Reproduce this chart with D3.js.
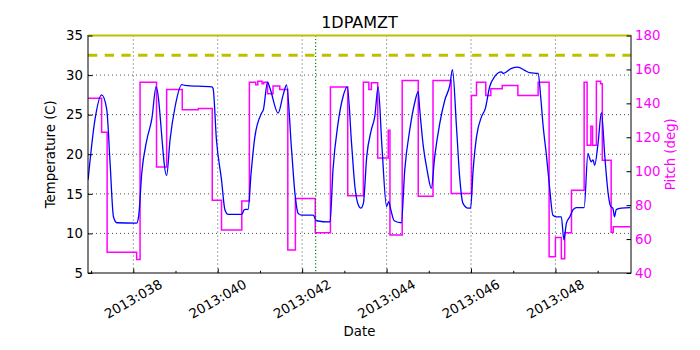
<!DOCTYPE html>
<html>
<head>
<meta charset="utf-8">
<script src="https://cdn.jsdelivr.net/npm/d3@7"></script>
<style>
  body { margin: 0; background: #fff; }
  text { font-family: "DejaVu Sans", sans-serif; }
</style>
</head>
<body>
<div id="chart"></div>
<script>
// Variables
const width = 700;
const height = 350;

const margin = { top: 35.5, right: 69, bottom: 77, left: 88 };
const innerWidth = width - margin.left - margin.right;
const innerHeight = height - margin.top - margin.bottom;

const chartTitle = '1DPAMZT';
const xAxisLabel = 'Date';
const yAxisLabel = 'Temperature (C)';
const y2AxisLabel = 'Pitch (deg)';

// Data (day of year 2013)
const xDomain = [36.927, 49.79];
const xMajorTicks = [38, 40, 42, 44, 46, 48];
const xMinorTicks = [37, 39, 41, 43, 45, 47, 49];
const tempTicks = [5, 10, 15, 20, 25, 30, 35];
const pitchTicks = [40, 60, 80, 100, 120, 140, 160, 180];

const tempDays = [36.93, 37.09, 37.25, 37.37, 37.45, 37.53, 37.61, 38.08, 38.13, 38.20,
  38.32, 38.44, 38.54, 38.79, 38.87, 38.99, 39.15, 39.22, 39.86, 39.89,
  39.97, 40.09, 40.17, 40.25, 40.57, 40.63, 40.72, 40.79, 40.88, 41.04,
  41.08, 41.18, 41.24, 41.43, 41.55, 41.63, 41.75, 41.83, 41.91, 41.99,
  42.26, 42.34, 42.66, 42.73, 42.85, 42.97, 43.07, 43.17, 43.25, 43.33,
  43.39, 43.45, 43.53, 43.64, 43.72, 43.80, 43.89, 44.00, 44.05, 44.10,
  44.18, 44.35, 44.43, 44.55, 44.67, 44.75, 44.78, 44.87, 44.96, 45.06,
  45.14, 45.26, 45.38, 45.50, 45.56, 45.66, 45.73, 45.81, 45.93, 45.99,
  46.05, 46.13, 46.25, 46.34, 46.44, 46.56, 46.72, 46.76, 46.96, 47.11,
  47.27, 47.39, 47.59, 47.65, 47.71, 47.79, 47.86, 47.94, 48.02, 48.14,
  48.20, 48.26, 48.34, 48.42, 48.50, 48.68, 48.77, 48.81, 48.85, 48.89,
  48.93, 49.01, 49.09, 49.17, 49.25, 49.31, 49.36, 49.40, 49.44, 49.56, 49.77];
const tempVals = [16.8, 24.3, 27.5, 25.7, 18.9, 12.1, 11.35, 11.3, 12.3, 17.6,
  21.8, 24.5, 28.5, 17.3, 21.8, 26.0, 28.8, 28.7, 28.5, 28.3,
  21.8, 16.75, 13.0, 12.4, 12.4, 13.0, 13.05, 17.6, 22.2, 25.2,
  25.6, 29.1, 28.3, 25.2, 27.5, 28.75, 20.5, 15.0, 12.5, 12.3,
  12.3, 11.6, 11.45, 18.0, 23.9, 27.3, 28.5, 21.4, 15.9, 13.6,
  13.2, 13.8, 19.7, 23.1, 24.75, 28.5, 21.0, 13.4, 14.0, 13.0,
  11.6, 11.35, 18.0, 23.1, 26.6, 27.9, 26.0, 21.0, 18.0, 15.7,
  19.7, 23.9, 26.85, 28.75, 30.7, 23.1, 17.2, 13.8, 13.2, 13.2,
  18.0, 22.2, 24.75, 25.8, 28.5, 29.8, 30.4, 30.2, 30.85, 31.0,
  30.6, 30.3, 30.2, 27.3, 23.5, 19.7, 15.9, 12.3, 12.1, 12.1,
  9.2, 11.3, 12.1, 13.0, 13.25, 13.25, 20.1, 19.5, 19.05, 19.3,
  18.6, 21.4, 25.25, 19.7, 15.0, 13.4, 13.2, 12.1, 13.0, 13.2, 13.25];

const pitchDays = [36.93, 37.25, 37.38, 38.08, 38.16, 38.55, 38.79, 39.16, 39.54, 39.87,
  40.09, 40.57, 40.75, 40.90, 40.95, 41.05, 41.09, 41.18, 41.31, 41.47,
  41.66, 41.84, 42.31, 42.67, 43.08, 43.45, 43.58, 43.64, 43.79, 44.04,
  44.08, 44.37, 44.75, 45.10, 45.53, 46.01, 46.13, 46.35, 46.47, 46.74,
  47.11, 47.59, 47.85, 48.00, 48.14, 48.22, 48.38, 48.68, 48.75, 48.84,
  48.88, 48.97, 49.07, 49.11, 49.32, 49.37, 49.77];
const pitchVals = [143, 123, 52.2, 48, 152.5, 102.5, 148.2, 136.3, 136.9, 82.9,
  65.3, 82.5, 152.5, 151, 153, 151.5, 152.5, 145.7, 150.2, 148.1,
  53.5, 83.9, 63.7, 149.6, 85.5, 152.5, 148.1, 152.2, 107.8, 124.1,
  62.4, 153.5, 85.3, 153.5, 86.9, 144.7, 152.5, 144.7, 148.6, 150.6,
  144.7, 152.5, 49.6, 61, 48.4, 63.7, 88.8, 152.5, 115.3, 126.5,
  115.3, 153.1, 151.6, 106.5, 64, 67.2, 67.2];

const limitHigh = 35;
const limitPlan = 32.5;
const markerDay = 42.32;

const tempData = tempDays.map((d, i) => ({ day: d, value: tempVals[i] }));
const pitchData = pitchDays.map((d, i) => ({ day: d, value: pitchVals[i] }));

// Create SVG
const svg = d3.select('#chart')
  .append('svg')
    .attr('width', width)
    .attr('height', height);

const chartGroup = svg.append('g')
  .attr('transform', `translate(${margin.left}, ${margin.top})`);

// Scales
const xScale = d3.scaleLinear().domain(xDomain).range([0, innerWidth]);
const yScale = d3.scaleLinear().domain([5, 35]).range([innerHeight, 0]);
const y2Scale = d3.scaleLinear().domain([40, 180]).range([innerHeight, 0]);

svg.append('defs').append('clipPath').attr('id', 'clip')
  .append('rect').attr('width', innerWidth).attr('height', innerHeight);

// Grid (dotted)
const grid = chartGroup.append('g')
  .attr('stroke', '#000')
  .attr('stroke-width', 0.7)
  .attr('stroke-dasharray', '1,3');

grid.selectAll('line.gx').data(xMajorTicks).enter().append('line')
  .attr('x1', d => xScale(d)).attr('x2', d => xScale(d))
  .attr('y1', 0).attr('y2', innerHeight);

grid.selectAll('line.gy').data(tempTicks.slice(1, -1)).enter().append('line')
  .attr('y1', d => yScale(d)).attr('y2', d => yScale(d))
  .attr('x1', 0).attr('x2', innerWidth);

const plot = chartGroup.append('g').attr('clip-path', 'url(#clip)');

// Pitch step line
const pitchLine = d3.line()
  .x(d => xScale(d.day))
  .y(d => y2Scale(d.value))
  .curve(d3.curveStepAfter);

plot.append('path')
  .datum(pitchData)
  .attr('d', pitchLine)
  .attr('fill', 'none')
  .attr('stroke', '#ff00ff')
  .attr('stroke-width', 1.5);

// Temperature line
const tempLine = d3.line()
  .x(d => xScale(d.day))
  .y(d => yScale(d.value))
  .curve(d3.curveMonotoneX);

plot.append('path')
  .datum(tempData)
  .attr('d', tempLine)
  .attr('fill', 'none')
  .attr('stroke', '#0000ff')
  .attr('stroke-width', 1.3);

// Marker line (green dotted)
plot.append('line')
  .attr('x1', xScale(markerDay)).attr('x2', xScale(markerDay))
  .attr('y1', 0).attr('y2', innerHeight)
  .attr('stroke', '#008000')
  .attr('stroke-width', 1.2)
  .attr('stroke-dasharray', '1.2,2.2');

// Limit lines
plot.append('line')
  .attr('x1', 0).attr('x2', innerWidth)
  .attr('y1', yScale(limitPlan)).attr('y2', yScale(limitPlan))
  .attr('stroke', '#bfbf00')
  .attr('stroke-width', 3)
  .attr('stroke-dasharray', '9.3,7.4');

// Frame
chartGroup.append('rect')
  .attr('width', innerWidth).attr('height', innerHeight)
  .attr('fill', 'none').attr('stroke', '#000').attr('stroke-width', 1);

chartGroup.append('line')
  .attr('x1', 0).attr('x2', innerWidth)
  .attr('y1', yScale(limitHigh)).attr('y2', yScale(limitHigh))
  .attr('stroke', '#bfbf00')
  .attr('stroke-width', 2);

// Axes (inward ticks)
const xAxis = d3.axisBottom(xScale).tickValues(xMajorTicks).tickSize(-4.5).tickFormat('');
const xAxisMinor = d3.axisBottom(xScale).tickValues(xMinorTicks).tickSize(-2.2).tickFormat('');
const yAxis = d3.axisLeft(yScale).tickValues(tempTicks).tickSize(-4.5).tickPadding(5);
const y2Axis = d3.axisRight(y2Scale).tickValues(pitchTicks).tickSize(-4.5).tickPadding(4);

const styleAxis = g => {
  g.select('.domain').remove();
  g.selectAll('text')
    .attr('font-family', '"DejaVu Sans", sans-serif')
    .attr('font-size', 13.3);
};

chartGroup.append('g').attr('transform', `translate(0, ${innerHeight})`)
  .call(xAxis).call(styleAxis).selectAll('text').remove();
chartGroup.append('g').attr('transform', `translate(0, ${innerHeight})`)
  .call(xAxisMinor).call(styleAxis).selectAll('text').remove();

chartGroup.append('g').call(yAxis).call(styleAxis)
  .selectAll('text').attr('fill', '#000');

chartGroup.append('g').attr('transform', `translate(${innerWidth}, 0)`)
  .call(y2Axis).call(styleAxis)
  .selectAll('text').attr('fill', '#ff00ff');

// Rotated x tick labels
chartGroup.append('g').selectAll('text').data(xMajorTicks).enter().append('text')
  .attr('transform', d => `translate(${xScale(d)}, ${innerHeight + 26}) rotate(-30)`)
  .attr('text-anchor', 'middle')
  .attr('dy', '0.35em')
  .attr('font-size', 13.3)
  .text(d => `2013:0${d}`);

// Labels
svg.append('text')
  .attr('x', margin.left + innerWidth / 2).attr('y', 28)
  .attr('text-anchor', 'middle')
  .attr('font-size', 16)
  .text(chartTitle);

svg.append('text')
  .attr('x', margin.left + innerWidth / 2).attr('y', 336)
  .attr('text-anchor', 'middle')
  .attr('font-size', 13.3)
  .text(xAxisLabel);

svg.append('text')
  .attr('transform', `translate(55, ${margin.top + innerHeight / 2}) rotate(-90)`)
  .attr('text-anchor', 'middle')
  .attr('font-size', 13.3)
  .text(yAxisLabel);

svg.append('text')
  .attr('transform', `translate(675, ${margin.top + innerHeight / 2}) rotate(-90)`)
  .attr('text-anchor', 'middle')
  .attr('font-size', 13.3)
  .attr('fill', '#ff00ff')
  .text(y2AxisLabel);
</script>
</body>
</html>
